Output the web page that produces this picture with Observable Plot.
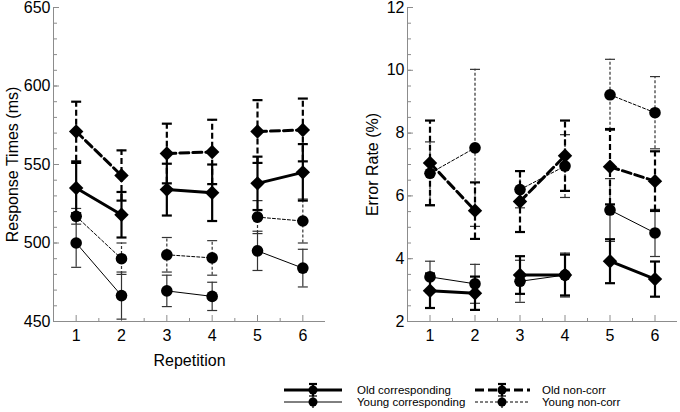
<!DOCTYPE html>
<html><head><meta charset="utf-8">
<script src="https://cdn.jsdelivr.net/npm/d3@7"></script>
<script src="https://cdn.jsdelivr.net/npm/@observablehq/plot@0.6"></script>
<style>
body{margin:0;background:#fff;font-family:"Liberation Sans",Arial,Helvetica,sans-serif;}
#row{display:flex;}
#legend svg{display:block;}
</style></head><body>
<div id="row"><div id="left"></div><div id="right"></div></div>
<div id="legend"></div>
<script>
const repetition = [1, 2, 3, 4, 5, 6];
const seriesNames = ["Old corresponding", "Young corresponding", "Old non-corr", "Young non-corr"];

// Response times (ms): means and error half-widths
const rtOldCorr = [535, 518, 534, 532, 538, 545];
const rtOldCorrErr = [16, 14.5, 16.5, 18, 17, 18];
const rtYoungCorr = [500, 466.5, 469.5, 466, 495, 484];
const rtYoungCorrErr = [15.5, 15, 10, 9, 12.5, 12];
const rtOldNon = [571, 543, 557, 558, 571, 572];
const rtOldNonErr = [19, 16, 19, 20.5, 20, 20];
const rtYoungNon = [517, 490, 492.5, 490.5, 516.5, 514];
const rtYoungNonErr = [5, 10, 11, 11, 10.5, 14];

// Error rate (%): means and error half-widths
const erOldCorr = [2.98, 2.9, 3.48, 3.48, 3.92, 3.35];
const erOldCorrErr = [0.55, 0.53, 0.6, 0.65, 0.7, 0.56];
const erYoungCorr = [3.42, 3.2, 3.28, 3.48, 5.55, 4.82];
const erYoungCorrErr = [0.5, 0.62, 0.67, 0.7, 1.0, 0.75];
const erOldNon = [7.05, 5.53, 5.82, 7.28, 6.93, 6.47];
const erOldNonErr = [1.35, 0.9, 0.97, 1.12, 1.2, 0.95];
const erYoungNon = [6.72, 7.53, 6.2, 6.95, 9.22, 8.65];
const erYoungNonErr = [1.0, 2.5, 0.58, 1.0, 1.13, 1.15];

const rtTicks = [450, 500, 550, 600, 650];
const erTicks = [2, 4, 6, 8, 10, 12];

const styles = {
  "Old corresponding":   {w: 3, dash: null,  errW: 2.2, errDash: null,  symbol: "diamond2", r: 6.5, color: "#000"},
  "Young corresponding": {w: 1, dash: null,  errW: 1.2, errDash: null,  symbol: "circle",   r: 5.8, color: "#333"},
  "Old non-corr":        {w: 3, dash: "9,4", errW: 2.2, errDash: "6,3", symbol: "diamond2", r: 6.5, color: "#000"},
  "Young non-corr":      {w: 1, dash: "3,2", errW: 1.2, errDash: "3,2", symbol: "circle",   r: 5.8, color: "#333"}
};
const drawOrder = ["Young corresponding", "Young non-corr", "Old corresponding", "Old non-corr"];

const capSymbol = {draw(ctx, size) { const r = Math.sqrt(size / Math.PI); ctx.moveTo(-r, 0); ctx.lineTo(r, 0); }};
const axisGray = "#8c8c8c";

function panel({vals, errs, yDomain, yTicks, yMinorStep, yLabel, xLabel, marginLeft, marginRight, labelOffset}) {
  const width = 340, height = 370, mt = 7, mb = 49;
  const xDomain = [0.5, 6.5];
  const rows = [];
  seriesNames.forEach((s, k) => vals[k].forEach((v, i) => rows.push({
    series: s, rep: repetition[i], pair: Math.ceil(repetition[i] / 2), v, lo: v - errs[k][i], hi: v + errs[k][i]
  })));
  const pw = width - marginLeft - marginRight, ph = height - mt - mb;
  const yMinor = d3.range(yDomain[0], yDomain[1] + 1e-9, yMinorStep);
  const xMinor = repetition.slice(0, -1).map(d => d + 0.5);
  const marks = [
    Plot.tickY(yMinor, {y: d => d, insetRight: pw - 4, stroke: axisGray}),
    Plot.tickY(yTicks, {y: d => d, insetRight: pw - 6, stroke: axisGray}),
    Plot.tickX(xMinor, {x: d => d, insetTop: ph - 3, stroke: axisGray}),
    Plot.tickX(repetition, {x: d => d, insetTop: ph - 6, stroke: axisGray}),
    Plot.ruleX([xDomain[0]], {stroke: axisGray}),
    Plot.ruleY([yDomain[0]], {stroke: axisGray}),
    Plot.axisY({ticks: yTicks, tickSize: 0, tickPadding: 3, fontSize: 16, label: yLabel, labelAnchor: "center", labelArrow: false, labelOffset}),
    Plot.axisX({ticks: repetition, tickSize: 0, tickPadding: 8, fontSize: 16, tickFormat: d => d, label: xLabel, labelAnchor: "center", labelArrow: false, labelOffset: 44})
  ];
  for (const s of drawOrder) {
    const st = styles[s];
    const d = rows.filter(r => r.series === s);
    marks.push(Plot.ruleX(d, {x: "rep", y1: "lo", y2: "hi", stroke: st.color, strokeWidth: st.errW, strokeDasharray: st.errDash}));
    marks.push(Plot.dot(d, {x: "rep", y: "hi", symbol: capSymbol, r: 5, stroke: st.color, strokeWidth: st.errW, fill: "none"}));
    marks.push(Plot.dot(d, {x: "rep", y: "lo", symbol: capSymbol, r: 5, stroke: st.color, strokeWidth: st.errW, fill: "none"}));
  }
  for (const s of drawOrder) {
    const st = styles[s];
    const d = rows.filter(r => r.series === s);
    marks.push(Plot.line(d, {x: "rep", y: "v", z: "pair", stroke: "#000", strokeWidth: st.w, strokeDasharray: st.dash}));
  }
  for (const s of drawOrder) {
    const st = styles[s];
    const d = rows.filter(r => r.series === s);
    marks.push(Plot.dot(d, {x: "rep", y: "v", symbol: st.symbol, r: st.r, fill: "#000", stroke: "none"}));
  }
  return Plot.plot({
    width, height, marginTop: mt, marginBottom: mb, marginLeft, marginRight,
    x: {domain: xDomain, axis: null},
    y: {domain: yDomain, axis: null},
    style: {fontFamily: '"Liberation Sans", Arial, Helvetica, sans-serif', fontSize: "16px", color: "#000", background: "#fff", overflow: "visible"},
    marks
  });
}

document.getElementById("left").appendChild(panel({
  vals: [rtOldCorr, rtYoungCorr, rtOldNon, rtYoungNon],
  errs: [rtOldCorrErr, rtYoungCorrErr, rtOldNonErr, rtYoungNonErr],
  yDomain: [450, 650], yTicks: rtTicks, yMinorStep: 10,
  yLabel: "Response Times (ms)", xLabel: "Repetition",
  marginLeft: 53, marginRight: 15, labelOffset: 47
}));
document.getElementById("right").appendChild(panel({
  vals: [erOldCorr, erYoungCorr, erOldNon, erYoungNon],
  errs: [erOldCorrErr, erYoungCorrErr, erOldNonErr, erYoungNonErr],
  yDomain: [2, 12], yTicks: erTicks, yMinorStep: 0.5,
  yLabel: "Error Rate (%)", xLabel: null,
  marginLeft: 67, marginRight: 3, labelOffset: 41
}));

// Legend
const legendItems = [
  {name: seriesNames[0], col: 0, row: 0},
  {name: seriesNames[1], col: 0, row: 1},
  {name: seriesNames[2], col: 1, row: 0},
  {name: seriesNames[3], col: 1, row: 1}
];
const cols = [{x1: 284, x2: 342, mx: 313, tx: 357}, {x1: 475, x2: 530, mx: 502, tx: 542}];
const rowsY = [20, 32];
const lg = d3.select("#legend").append("svg").attr("width", 680).attr("height", 42);
for (const it of legendItems) {
  const st = styles[it.name], c = cols[it.col], y = rowsY[it.row];
  const g = lg.append("g");
  g.append("line").attr("x1", c.x1).attr("x2", c.x2).attr("y1", y).attr("y2", y)
    .attr("stroke", "#000").attr("stroke-width", st.w).attr("stroke-dasharray", st.dash);
  g.append("line").attr("x1", c.mx).attr("x2", c.mx).attr("y1", y - 6).attr("y2", y + 6)
    .attr("stroke", "#000").attr("stroke-width", st.errW);
  g.append("line").attr("x1", c.mx - 4).attr("x2", c.mx + 4).attr("y1", y - 6).attr("y2", y - 6)
    .attr("stroke", "#000").attr("stroke-width", st.errW);
  g.append("circle").attr("cx", c.mx).attr("cy", y).attr("r", 4.5).attr("fill", "#000");
  g.append("text").attr("x", c.tx).attr("y", y).attr("dy", "0.35em")
    .attr("font-size", 11.5).attr("font-family", '"Liberation Sans", Arial, sans-serif').attr("fill", "#000").text(it.name);
}
</script>
</body></html>
